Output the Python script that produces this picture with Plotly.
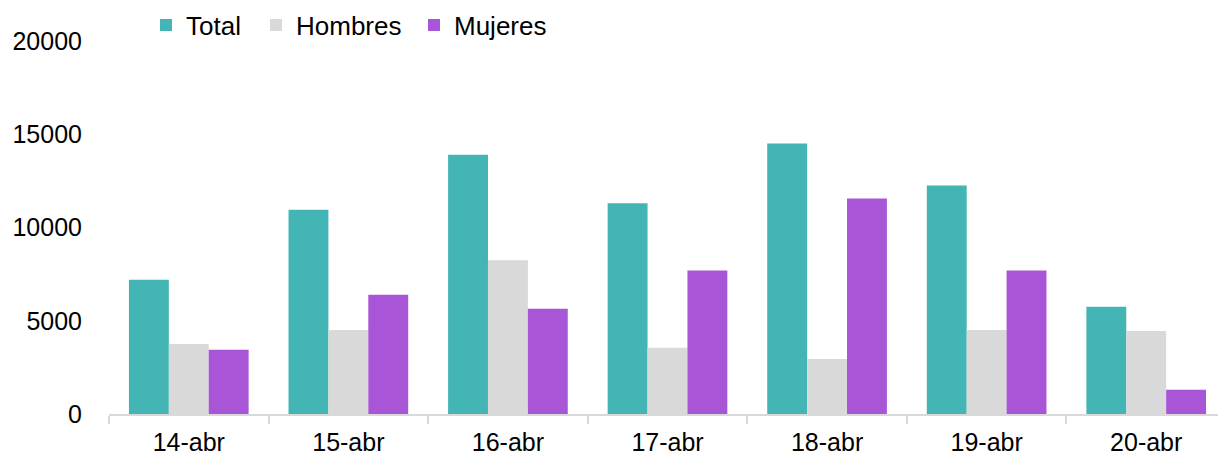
import plotly.graph_objects as go

categories = ["14-abr", "15-abr", "16-abr", "17-abr", "18-abr", "19-abr", "20-abr"]
total = [7200, 10950, 13900, 11300, 14500, 12250, 5750]
hombres = [3750, 4500, 8250, 3550, 2950, 4500, 4450]
mujeres = [3450, 6400, 5650, 7700, 11550, 7700, 1300]
y_ticks = [0, 5000, 10000, 15000, 20000]
y_tick_text = ["0", "5000", "10000", "15000", "20000"]

fig = go.Figure()
fig.add_trace(go.Bar(name="Total", x=categories, y=total, marker_color="#43B5B5",
                     marker_line_width=0, legend="legend", showlegend=True))
fig.add_trace(go.Bar(name="Hombres", x=categories, y=hombres, marker_color="#D9D9D9",
                     marker_line_width=0, legend="legend2", showlegend=True))
fig.add_trace(go.Bar(name="Mujeres", x=categories, y=mujeres, marker_color="#A855D8",
                     marker_line_width=0, legend="legend3", showlegend=True))

# page body has an 8px margin; compensate so the plot lands where intended
OFF = 8
W, H = 1226 - OFF, 460 - OFF
L, T, B = 109 - OFF, 41 - OFF, 46
PW = W - L
PH = H - T - B


def lx(px):
    return (px - OFF - L) / PW


def ly(py):
    return 1.0 + (T - (py - OFF)) / PH


leg_common = dict(orientation="h", yanchor="middle", y=ly(25),
                  xanchor="left", font=dict(size=26), bgcolor="rgba(0,0,0,0)",
                  itemwidth=30)

fig.update_layout(
    width=W, height=H,
    margin=dict(l=L, r=0, t=T, b=B, autoexpand=False),
    paper_bgcolor="white", plot_bgcolor="white",
    showlegend=True,
    barmode="group", bargap=0.25, bargroupgap=0,
    font=dict(family="Liberation Sans, Arial", size=25, color="#000000"),
    legend=dict(x=lx(146), **leg_common),
    legend2=dict(x=lx(256), **leg_common),
    legend3=dict(x=lx(414), **leg_common),
    xaxis=dict(showline=True, linecolor="#D9D9D9", linewidth=1.5,
               ticks="outside", tickson="boundaries", ticklen=8, tickcolor="#D9D9D9",
               tickwidth=1.5, showgrid=False, tickfont=dict(size=25), automargin=False,
               ticklabelstandoff=5),
    yaxis=dict(range=[0, 20000], tickvals=y_ticks, ticktext=y_tick_text, showgrid=False,
               zeroline=False, showline=False, tickfont=dict(size=25),
               ticklabelstandoff=26, automargin=False),
)
fig.write_html("out.html")
